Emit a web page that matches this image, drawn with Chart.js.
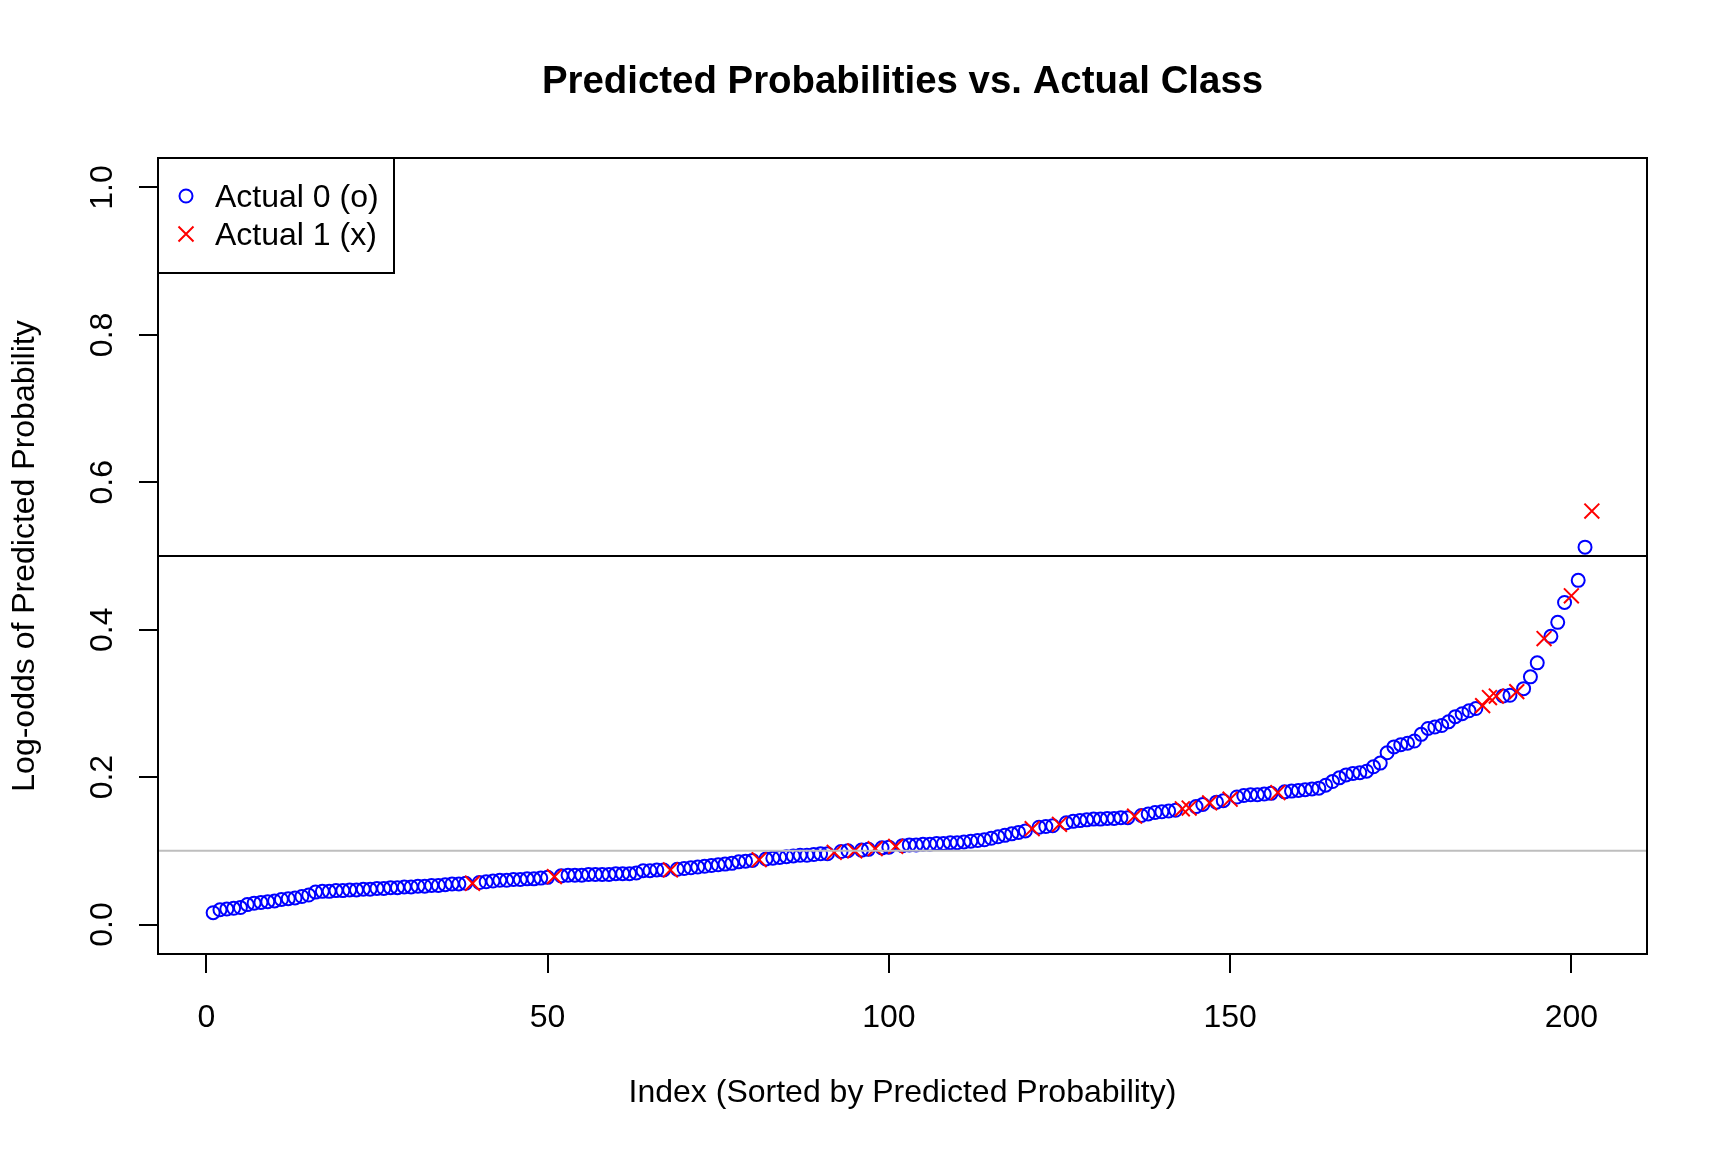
<!DOCTYPE html>
<html lang="en">
<head>
  <meta charset="UTF-8">
  <title>Predicted Probabilities vs. Actual Class</title>
  <script src="https://cdn.jsdelivr.net/npm/chart.js"></script>
  <style>
    html, body { margin: 0; padding: 0; background: #fff; }
    canvas { display: block; }
  </style>
</head>
<body>
  <canvas id="chart" width="1728" height="1152"></canvas>

  <script>
    // predicted value for each index (sorted)
    const predicted = [
      0.016, 0.020, 0.021, 0.022, 0.023, 0.027, 0.029, 0.030, 0.031, 0.032,
      0.034, 0.035, 0.036, 0.038, 0.040, 0.044, 0.045, 0.045, 0.046, 0.046,
      0.047, 0.047, 0.048, 0.048, 0.049, 0.049, 0.050, 0.050, 0.051, 0.051,
      0.052, 0.052, 0.053, 0.053, 0.054, 0.055, 0.055, 0.056, 0.056, 0.057,
      0.058, 0.059, 0.060, 0.060, 0.061, 0.061, 0.062, 0.062, 0.063, 0.064,
      0.065, 0.066, 0.067, 0.067, 0.067, 0.068, 0.068, 0.068, 0.068, 0.069,
      0.069, 0.069, 0.070, 0.073, 0.073, 0.074, 0.074, 0.074, 0.075, 0.076,
      0.077, 0.078, 0.079, 0.080, 0.081, 0.082, 0.083, 0.085, 0.086, 0.087,
      0.088, 0.089, 0.090, 0.091, 0.092, 0.093, 0.094, 0.094, 0.095, 0.096,
      0.096, 0.098, 0.099, 0.100, 0.100, 0.101, 0.102, 0.103, 0.104, 0.105,
      0.106, 0.107, 0.108, 0.108, 0.109, 0.109, 0.110, 0.110, 0.111, 0.111,
      0.112, 0.113, 0.114, 0.115, 0.117, 0.119, 0.121, 0.123, 0.125, 0.127,
      0.130, 0.132, 0.133, 0.134, 0.136, 0.138, 0.140, 0.141, 0.142, 0.143,
      0.143, 0.144, 0.144, 0.145, 0.145, 0.147, 0.148, 0.150, 0.152, 0.153,
      0.154, 0.155, 0.157, 0.158, 0.160, 0.163, 0.165, 0.166, 0.168, 0.170,
      0.173, 0.175, 0.176, 0.176, 0.177, 0.178, 0.179, 0.180, 0.181, 0.182,
      0.183, 0.184, 0.185, 0.189, 0.194, 0.199, 0.203, 0.205, 0.206, 0.208,
      0.214, 0.219, 0.233, 0.241, 0.244, 0.246, 0.249, 0.258, 0.266, 0.268,
      0.270, 0.275, 0.282, 0.286, 0.290, 0.293, 0.297, 0.308, 0.310, 0.310,
      0.311, 0.316, 0.320, 0.336, 0.355, 0.388, 0.391, 0.410, 0.437, 0.446,
      0.467, 0.512, 0.561
    ];

    // indices (1-based) whose actual class is 1
    const class1Index = [39, 51, 68, 81, 92, 95, 98, 101, 121, 125, 136, 143, 144,
                         147, 150, 157, 187, 188, 189, 192, 196, 200, 203];

    const xTicks = [0, 50, 100, 150, 200];
    const yTicks = [0, 0.2, 0.4, 0.6, 0.8, 1.0];
    const hLines = [0.5, 0.1];
    const legendLabels = ["Actual 0 (o)", "Actual 1 (x)"];

    const titleText = "Predicted Probabilities vs. Actual Class";
    const xTitle = "Index (Sorted by Predicted Probability)";
    const yTitle = "Log-odds of Predicted Probability";

    const BLUE = "#0000FF", RED = "#FF0000";
    const FONT = '"Liberation Sans", Arial, Helvetica, sans-serif';

    const pts0 = [], pts1 = [];
    predicted.forEach((v, i) => {
      const p = { x: i + 1, y: v };
      (class1Index.includes(i + 1) ? pts1 : pts0).push(p);
    });

    // R's 4% axis extension
    const n = predicted.length;
    const xPad = (n - 1) * 0.04;

    // R-ish frame, reference lines, legend and text
    const rPlot = {
      id: "rPlot",
      afterDatasetsDraw(chart) {
        const { ctx, chartArea: a, scales: { x, y } } = chart;
        ctx.save();

        ctx.lineWidth = 2;
        hLines.forEach((v, k) => {
          const py = y.getPixelForValue(v);
          ctx.strokeStyle = k === 0 ? "#000" : "#BEBEBE";
          ctx.beginPath();
          ctx.moveTo(a.left, py);
          ctx.lineTo(a.right, py);
          ctx.stroke();
        });

        ctx.strokeStyle = "#000";
        ctx.lineWidth = 2;
        ctx.strokeRect(a.left, a.top, a.right - a.left, a.bottom - a.top);

        // legend box
        const lw = 236, lh = 115;
        ctx.fillStyle = "#fff";
        ctx.fillRect(a.left, a.top, lw, lh);
        ctx.strokeRect(a.left, a.top, lw, lh);

        const sx = a.left + 28;
        const rows = [a.top + 38, a.top + 76];
        ctx.lineWidth = 2;
        ctx.strokeStyle = BLUE;
        ctx.beginPath();
        ctx.arc(sx, rows[0], 6.5, 0, Math.PI * 2);
        ctx.stroke();
        ctx.strokeStyle = RED;
        const d = 7.5;
        ctx.beginPath();
        ctx.moveTo(sx - d, rows[1] - d); ctx.lineTo(sx + d, rows[1] + d);
        ctx.moveTo(sx + d, rows[1] - d); ctx.lineTo(sx - d, rows[1] + d);
        ctx.stroke();

        ctx.fillStyle = "#000";
        ctx.font = "32px " + FONT;
        ctx.textAlign = "left";
        ctx.textBaseline = "alphabetic";
        legendLabels.forEach((t, k) => ctx.fillText(t, a.left + 57, rows[k] + 10.5));

        ctx.restore();
      },
      afterDraw(chart) {
        const { ctx, chartArea: a, scales: { x, y } } = chart;
        const cx = (a.left + a.right) / 2;
        const cy = (a.top + a.bottom) / 2;
        ctx.save();
        ctx.fillStyle = "#000";
        ctx.textBaseline = "alphabetic";
        ctx.textAlign = "center";

        ctx.font = "bold 38.4px " + FONT;
        ctx.fillText(titleText, cx, 93);

        ctx.font = "32px " + FONT;
        x.ticks.forEach(t => {
          ctx.fillText(String(t.value), x.getPixelForValue(t.value), a.bottom + 72.5);
        });
        y.ticks.forEach(t => {
          ctx.save();
          ctx.translate(112, y.getPixelForValue(t.value));
          ctx.rotate(-Math.PI / 2);
          ctx.fillText(t.value.toFixed(1), 0, 0);
          ctx.restore();
        });

        ctx.fillText(xTitle, cx, a.bottom + 148);
        ctx.save();
        ctx.translate(34, cy);
        ctx.rotate(-Math.PI / 2);
        ctx.fillText(yTitle, 0, 0);
        ctx.restore();

        ctx.restore();
      }
    };

    const tickGrid = { drawOnChartArea: false, drawTicks: true, tickLength: 19, color: "#000", lineWidth: 2 };

    new Chart(document.getElementById("chart"), {
      type: "scatter",
      data: {
        datasets: [
          {
            label: legendLabels[1],
            data: pts1,
            pointStyle: "crossRot",
            pointRadius: 10.5,
            pointBorderWidth: 2,
            borderColor: RED,
            backgroundColor: RED,
            order: 0
          },
          {
            label: legendLabels[0],
            data: pts0,
            pointStyle: "circle",
            pointRadius: 6.5,
            pointBorderWidth: 2,
            borderColor: BLUE,
            backgroundColor: "rgba(0,0,0,0)",
            order: 1
          }
        ]
      },
      options: {
        responsive: false,
        devicePixelRatio: 1,
        animation: false,
        events: [],
        layout: { padding: { top: 158, right: 81, left: 0, bottom: 0 } },
        plugins: {
          legend: { display: false },
          title: { display: false },
          tooltip: { enabled: false }
        },
        scales: {
          x: {
            type: "linear",
            min: 1 - xPad,
            max: n + xPad,
            afterBuildTicks: s => { s.ticks = xTicks.map(v => ({ value: v })); },
            afterFit: s => { s.height = 198; },
            ticks: { display: false },
            grid: tickGrid,
            border: { display: false }
          },
          y: {
            type: "linear",
            min: -0.04,
            max: 1.04,
            afterBuildTicks: s => { s.ticks = yTicks.map(v => ({ value: v })); },
            afterFit: s => { s.width = 158; },
            ticks: { display: false },
            grid: tickGrid,
            border: { display: false }
          }
        }
      },
      plugins: [rPlot]
    });
  </script>
</body>
</html>
